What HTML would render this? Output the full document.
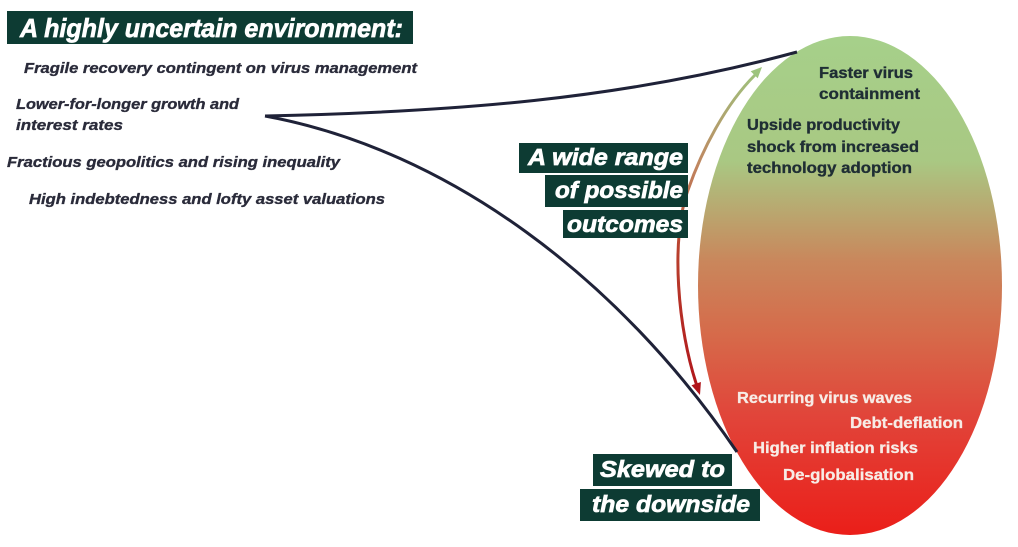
<!DOCTYPE html>
<html>
<head>
<meta charset="utf-8">
<style>
  html,body{margin:0;padding:0;background:#ffffff;}
  body{width:1018px;height:547px;overflow:hidden;}
  svg{display:block;}
  .lt{font-family:"Liberation Sans",Arial,sans-serif;font-weight:bold;font-style:italic;font-size:15px;fill:#2a2b3a;stroke:#2a2b3a;stroke-width:0.35;}
  .hd{font-family:"Liberation Sans",Arial,sans-serif;font-weight:bold;font-style:italic;fill:#ffffff;stroke:#ffffff;stroke-width:0.7;}
  .et{font-family:"Liberation Sans",Arial,sans-serif;font-weight:bold;font-size:15.5px;fill:#1f2e34;stroke:#1f2e34;stroke-width:0.35;}
  .ew{font-family:"Liberation Sans",Arial,sans-serif;font-weight:bold;font-size:15.5px;fill:#f7ece6;stroke:#f7ece6;stroke-width:0.3;}
</style>
</head>
<body>
<svg width="1018" height="547" viewBox="0 0 1018 547" xmlns="http://www.w3.org/2000/svg">
  <defs>
    <linearGradient id="eg" gradientUnits="userSpaceOnUse" x1="0" y1="36" x2="0" y2="535">
      <stop offset="0" stop-color="#a6d08a"/>
      <stop offset="0.25" stop-color="#a9c883"/>
      <stop offset="0.45" stop-color="#c9875c"/>
      <stop offset="0.6" stop-color="#d66a4a"/>
      <stop offset="0.76" stop-color="#e1453a"/>
      <stop offset="1" stop-color="#eb1e19"/>
    </linearGradient>
    <linearGradient id="ag" gradientUnits="userSpaceOnUse" x1="0" y1="68" x2="0" y2="395">
      <stop offset="0" stop-color="#9dc47e"/>
      <stop offset="0.3" stop-color="#c08660"/>
      <stop offset="0.55" stop-color="#b9412e"/>
      <stop offset="1" stop-color="#b0141a"/>
    </linearGradient>
  </defs>

  <!-- Ellipse -->
  <ellipse cx="850" cy="285.5" rx="152" ry="249.5" fill="url(#eg)"/>

  <!-- Dark connector lines -->
  <path d="M265,116 C450,112 620,100 797,52" fill="none" stroke="#1f2238" stroke-width="3"/>
  <path d="M265,116 C450,150 620,280 737,452" fill="none" stroke="#1f2238" stroke-width="3"/>

  <!-- Double-headed range arrow -->
  <path d="M697,386 C678,330 670,240 688,190 C702,150 725,105 755,75" fill="none" stroke="url(#ag)" stroke-width="3"/>
  <polygon points="762,67 757.7,78.3 750.7,71.3" fill="#9dc47e"/>
  <polygon points="700,395 700.9,382 691.5,385.2" fill="#b0141a"/>

  <!-- Title box -->
  <rect x="7" y="11" width="406" height="33" fill="#0d3b33"/>
  <text class="hd" x="20" y="37" font-size="26" textLength="383" lengthAdjust="spacingAndGlyphs">A highly uncertain environment:</text>

  <!-- Left list -->
  <text class="lt" x="24" y="73" textLength="393" lengthAdjust="spacingAndGlyphs">Fragile recovery contingent on virus management</text>
  <text class="lt" x="16" y="109" textLength="223" lengthAdjust="spacingAndGlyphs">Lower-for-longer growth and</text>
  <text class="lt" x="16" y="130" textLength="107" lengthAdjust="spacingAndGlyphs">interest rates</text>
  <text class="lt" x="7" y="167" textLength="333" lengthAdjust="spacingAndGlyphs">Fractious geopolitics and rising inequality</text>
  <text class="lt" x="29" y="204" textLength="356" lengthAdjust="spacingAndGlyphs">High indebtedness and lofty asset valuations</text>

  <!-- Wide range labels -->
  <rect x="519" y="143" width="169" height="30" fill="#0d3b33"/>
  <rect x="545" y="175" width="143" height="32" fill="#0d3b33"/>
  <rect x="563" y="210" width="125" height="28" fill="#0d3b33"/>
  <text class="hd" x="528" y="165" font-size="23" textLength="155" lengthAdjust="spacingAndGlyphs">A wide range</text>
  <text class="hd" x="555" y="198" font-size="23" textLength="128" lengthAdjust="spacingAndGlyphs">of possible</text>
  <text class="hd" x="567" y="232" font-size="23" textLength="116" lengthAdjust="spacingAndGlyphs">outcomes</text>

  <!-- Skewed labels -->
  <rect x="593" y="454" width="139" height="32" fill="#0d3b33"/>
  <rect x="580" y="489" width="180" height="32" fill="#0d3b33"/>
  <text class="hd" x="600" y="477" font-size="23" textLength="125" lengthAdjust="spacingAndGlyphs">Skewed to</text>
  <text class="hd" x="592" y="512" font-size="23" textLength="158" lengthAdjust="spacingAndGlyphs">the downside</text>

  <!-- Upside texts -->
  <text class="et" x="819" y="78" textLength="94" lengthAdjust="spacingAndGlyphs">Faster virus</text>
  <text class="et" x="819" y="99" textLength="101" lengthAdjust="spacingAndGlyphs">containment</text>
  <text class="et" x="747" y="130" textLength="153" lengthAdjust="spacingAndGlyphs">Upside productivity</text>
  <text class="et" x="747" y="152" textLength="172" lengthAdjust="spacingAndGlyphs">shock from increased</text>
  <text class="et" x="747" y="173" textLength="165" lengthAdjust="spacingAndGlyphs">technology adoption</text>

  <!-- Downside texts -->
  <text class="ew" x="737" y="403" textLength="175" lengthAdjust="spacingAndGlyphs">Recurring virus waves</text>
  <text class="ew" x="850" y="428" textLength="113" lengthAdjust="spacingAndGlyphs">Debt-deflation</text>
  <text class="ew" x="753" y="453" textLength="165" lengthAdjust="spacingAndGlyphs">Higher inflation risks</text>
  <text class="ew" x="783" y="480" textLength="131" lengthAdjust="spacingAndGlyphs">De-globalisation</text>
</svg>
</body>
</html>
